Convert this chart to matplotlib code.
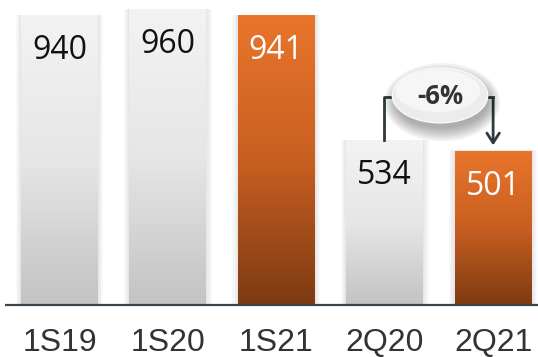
import numpy as np
import matplotlib.pyplot as plt
from matplotlib.colors import LinearSegmentedColormap
from matplotlib.patches import Rectangle, Ellipse

categories = ["1S19", "1S20", "1S21", "2Q20", "2Q21"]
values = [940, 960, 941, 534, 501]
highlight = [False, False, True, False, True]
change_label = "-6%"

gray_cmap = LinearSegmentedColormap.from_list("g", ["#f3f3f3", "#e6e6e6", "#c3c3c3"])
orange_cmap = LinearSegmentedColormap.from_list("o", ["#e9752b", "#c85f21", "#7d3a12"])
grad = np.linspace(0, 1, 256).reshape(-1, 1)

fig = plt.figure(figsize=(5.38, 3.57), dpi=100)
ax = fig.add_axes([0, 0, 1, 1])
ax.set_xlim(-0.549, 4.414)
ax.set_ylim(-168.8, 989.8)
ax.axis("off")

width = 0.71
for i, (cat, v, hl) in enumerate(zip(categories, values, highlight)):
    x0 = i - width / 2
    # soft shadow
    for k in range(5):
        pad = 0.01 * (k + 1)
        ax.add_patch(Rectangle((x0 - pad, -4), width + 2 * pad, v + 4 + pad * 20,
                               facecolor="#000000", alpha=0.02, lw=0, zorder=1))
    cmap = orange_cmap if hl else gray_cmap
    im = ax.imshow(grad, cmap=cmap, aspect="auto", extent=(x0, x0 + width, 0, v),
                   origin="upper", zorder=2)
    rect = Rectangle((x0, 0), width, v, facecolor="none", lw=0, zorder=2)
    ax.add_patch(rect)
    im.set_clip_path(rect)
    ax.text(i, v - 115, str(v), ha="center", va="center", fontsize=23,
            family="Open Sans", color="white" if hl else "#111111", zorder=4)
    ax.text(i, -122, cat, ha="center", va="center", fontsize=23,
            family="Liberation Sans", color="#333333")

ax.plot([-0.5, 4.42], [0, 0], color="#3b474c", lw=1.6, zorder=3, solid_capstyle="butt")

# bracket arrow from 2Q20 to 2Q21
yb = 675
xl, xr = 3 - 0.01, 4 + 0.0
ax.plot([xl, xl, xr], [values[3] + 2, yb, yb], color="#2e3a3d", lw=2, zorder=3)
ax.annotate("", xy=(xr, values[4] + 8), xytext=(xr, yb + 3),
            arrowprops=dict(arrowstyle="->,head_length=0.7,head_width=0.45",
                            color="#2e3a3d", lw=2), zorder=3)

# ellipse label with shadow
ex, ey = 3.51, 680
for k in range(7):
    ax.add_patch(Ellipse((ex + 0.02, ey - 22), 0.86 + 0.035 * k, 170 + 14 * k,
                         facecolor="#000000", alpha=0.05, lw=0, zorder=4))
ax.add_patch(Ellipse((ex, ey), 0.88, 178, facecolor="#ececec",
                     edgecolor="#f8f8f8", lw=1, zorder=5))
ax.add_patch(Ellipse((ex - 0.02, ey + 15), 0.78, 138, facecolor="#f8f8f8",
                     lw=0, alpha=0.85, zorder=5))
ax.text(ex, ey - 5, change_label, ha="center", va="center", fontsize=18.5,
        family="Open Sans", weight="bold", color="#333333", zorder=6)

fig.savefig("out.png", dpi=100)
